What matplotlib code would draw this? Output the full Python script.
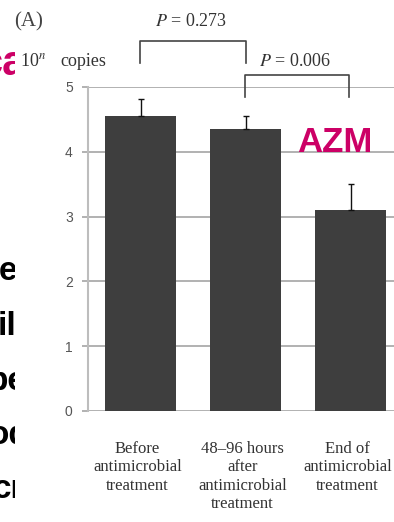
import numpy as np
import matplotlib.pyplot as plt

W, H = 394, 522

groups = ['Before\nantimicrobial\ntreatment',
          '48\u201396 hours\nafter\nantimicrobial\ntreatment',
          'End of\nantimicrobial\ntreatment']
copies = [4.55, 4.35, 3.10]
err_up = [0.26, 0.20, 0.40]
yticks = [0, 1, 2, 3, 4, 5]
p_values = ['0.273', '0.006']
side_words = ['e', 'il', 'be', 'od', 'cr']


def fx(x):
    return x / W


def fy(y):
    return 1 - y / H


serif = 'Liberation Serif'
sans = 'Liberation Sans'

fig = plt.figure(figsize=(W / 100, H / 100), dpi=100)
fig.patch.set_facecolor('white')

ax = fig.add_axes([fx(88), fy(411), 315 / W, 324 / H])
x = np.arange(len(copies))
ax.set_axisbelow(True)
ax.yaxis.grid(True, color='#ababab', lw=1.3)
ax.bar(x, copies, width=0.67, color='#3e3e3e', zorder=3)
ax.errorbar(x, copies, yerr=[np.zeros(3), err_up], fmt='none',
            ecolor='#111111', elinewidth=1, capsize=2, capthick=1, zorder=4)
ax.set_xlim(-0.5, 2.5)
ax.set_ylim(0, 5)
ax.set_yticks(yticks)
ax.set_xticks([])
ax.tick_params(axis='y', length=4, width=1.3, color='#ababab', pad=7,
               labelsize=10, labelcolor='#555555')
for lab in ax.get_yticklabels():
    lab.set_fontfamily(sans)
for s in ['top', 'right', 'bottom']:
    ax.spines[s].set_visible(False)
ax.spines['left'].set_color('#bdbdbd')
ax.spines['left'].set_linewidth(1.5)

# category labels under the bars
for xi, g in zip(x, groups):
    xp, _ = fig.transFigure.inverted().transform(ax.transData.transform((xi, 0)))
    fig.text(xp - fx(3), fy(441), g, ha='center', va='top', family=serif,
             fontsize=12, color='#333333', linespacing=1.2)

fig.text(fx(14), fy(22), '(A)', family=serif, fontsize=15, color='#444444',
         va='center', ha='left')
fig.text(fx(20), fy(61), '10$^{n}$', family=serif, fontsize=13, color='#333333',
         va='center', ha='left', math_fontfamily='stix')
fig.text(fx(60), fy(61), 'copies', family=serif, fontsize=13, color='#333333',
         va='center', ha='left')


def bracket(x0, x1, ytop, ybot):
    xs = [fx(x0), fx(x0), fx(x1), fx(x1)]
    ys = [fy(ybot), fy(ytop), fy(ytop), fy(ybot)]
    fig.add_artist(plt.Line2D(xs, ys, color='#444444', lw=1.2))


bracket(140, 246, 41, 63)
bracket(245, 349, 75, 97)
fig.text(fx(191), fy(22), '$P$ = ' + p_values[0], family=serif, fontsize=13,
         color='#333333', ha='center', va='center', math_fontfamily='stix')
fig.text(fx(295), fy(62), '$P$ = ' + p_values[1], family=serif, fontsize=13,
         color='#333333', ha='center', va='center', math_fontfamily='stix')

fig.text(fx(335), fy(143), 'AZM', family=sans, weight='bold', fontsize=25,
         color='#cc0066', ha='center', va='center')

# slide text running in from the left edge
strip = fig.add_axes([0, 0, fx(15), 1])
strip.set_axis_off()
strip.set_xlim(0, 15)
strip.set_ylim(H, 0)
strip.text(26, 64, 'ca', family=sans, weight='bold', fontsize=30,
           color='#cc0066', ha='right', va='center', clip_on=True)
side_x = [17, 16, 27, 30, 24]
for k, (w, sx) in enumerate(zip(side_words, side_x)):
    strip.text(sx, 272 + 54.5 * k, w, family=sans, weight='bold', fontsize=24,
               color='black', ha='right', va='center', clip_on=True)

fig.savefig('out.png', dpi=100)
